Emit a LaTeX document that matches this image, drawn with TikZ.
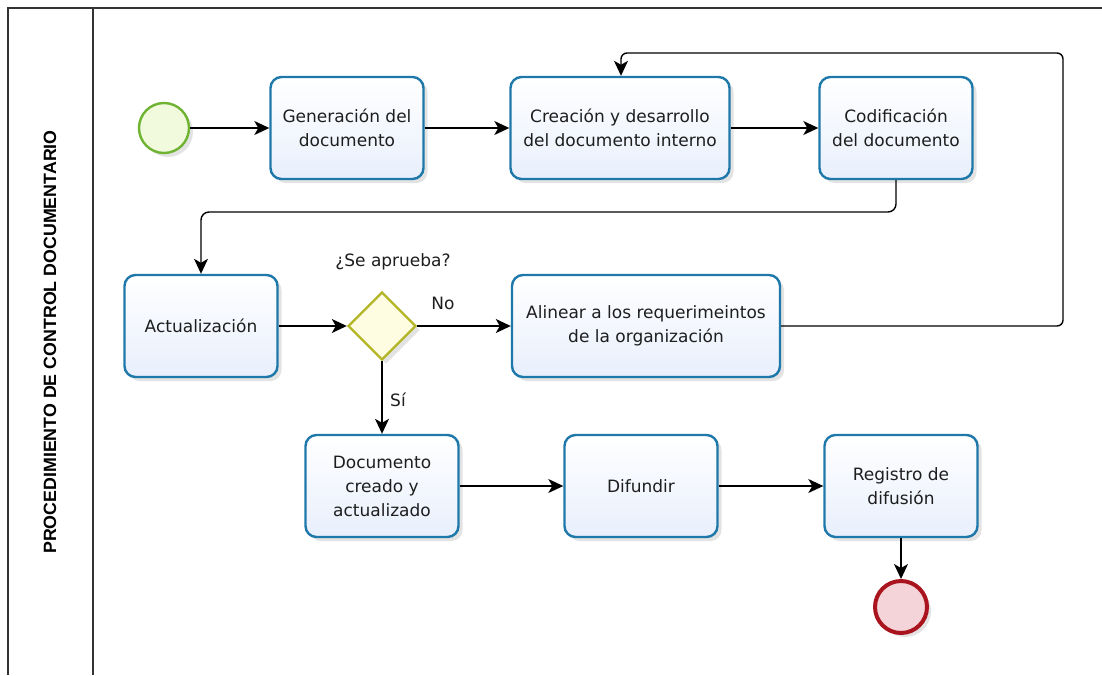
\documentclass[tikz,border=0pt]{standalone}
\usepackage{fontspec}
\setmainfont{DejaVu Sans}
\newfontfamily\titlefont{Liberation Sans}
\usetikzlibrary{arrows.meta,shapes.geometric,shadows}
\definecolor{taskblue}{RGB}{30,120,170}
\definecolor{taskfill}{RGB}{232,239,252}
\definecolor{startgreen}{RGB}{110,180,50}
\definecolor{startfill}{RGB}{242,250,222}
\definecolor{endred}{RGB}{170,20,30}
\definecolor{endfill}{RGB}{244,212,216}
\definecolor{gateolive}{RGB}{180,180,40}
\definecolor{gatefill}{RGB}{255,253,225}
\definecolor{textgray}{RGB}{30,30,30}
\tikzset{
  task/.style={draw=taskblue, line width=2.4pt, rounded corners=11pt,
    top color=white, bottom color=taskfill,
    minimum width=153pt, minimum height=102pt, align=center,
    font=\fontsize{17}{24}\selectfont, text=textgray,
    drop shadow={shadow xshift=4pt, shadow yshift=-4pt, opacity=0.18, fill=black!60}},
  startev/.style={circle, draw=startgreen, line width=2.4pt, fill=startfill,
    minimum size=50pt, inner sep=0pt,
    drop shadow={shadow xshift=4pt, shadow yshift=-4pt, opacity=0.18, fill=black!60}},
  endev/.style={circle, draw=endred, line width=4pt, fill=endfill,
    minimum size=52pt, inner sep=0pt,
    drop shadow={shadow xshift=4pt, shadow yshift=-4pt, opacity=0.18, fill=black!60}},
  gateway/.style={diamond, draw=gateolive, line width=2.4pt, fill=gatefill,
    minimum width=68pt, minimum height=68pt, inner sep=0pt, aspect=1,
    drop shadow={shadow xshift=4pt, shadow yshift=-4pt, opacity=0.18, fill=black!60}},
  flow/.style={draw=black, line width=1.4pt, -{Stealth[length=15pt,width=14pt,inset=4pt]}},
  lbl/.style={font=\fontsize{17}{20}\selectfont, text=textgray},
  frame/.style={draw=black!80, line width=1.6pt}
}
\begin{document}
\begin{tikzpicture}[x=1pt,y=-1pt]
\useasboundingbox (0,0) rectangle (1102,675);
\fill[white] (0,0) rectangle (1102,675);
% frame
\draw[frame] (1102,8) -- (8,8) -- (8,675);
\draw[frame] (93,8) -- (93,675);
\node[rotate=90, font=\titlefont\bfseries\fontsize{17.8}{20}\selectfont] (title) at (50,342) {PROCEDIMIENTO DE CONTROL DOCUMENTARIO};
% nodes
\node[startev] (start) at (164,128) {};
\node[task] (gen) at (347,128) {Generación del\\documento};
\node[task, minimum width=219pt] (cre) at (620,128) {Creación y desarrollo\\del documento interno};
\node[task] (cod) at (896,128) {Codificación\\del documento};
\node[task] (act) at (201,326) {Actualización};
\node[gateway] (gw) at (382,326) {};
\node[task, minimum width=268pt] (ali) at (646,326) {Alinear a los requerimeintos\\de la organización};
\node[task] (doc) at (382,486) {Documento\\creado y\\actualizado};
\node[task] (dif) at (641,486) {Difundir};
\node[task] (reg) at (901,486) {Registro de\\difusión};
\node[endev] (end) at (901,607) {};
% labels
\node[lbl] (q) at (393,262) {¿Se aprueba?};
\node[lbl] (no) at (443,303) {No};
\node[lbl] (si) at (398,400) {Sí};
% coordinates
\coordinate (c1) at (896,212);
\coordinate (r1) at (1063,326);
\coordinate (r2) at (1063,53);
\coordinate (r3) at (621,53);
% connectors
\draw[flow] (start) -- (gen);
\draw[flow] (gen) -- (cre);
\draw[flow] (cre) -- (cod);
\draw[flow, rounded corners=8pt] (cod.south) -- (c1) -| (act.north);
\draw[flow] (act) -- (gw.west);
\draw[flow] (gw.east) -- (ali.west);
\draw[flow] (gw.south) -- (doc.north);
\draw[flow, rounded corners=6pt] (ali.east) -- (r1) -- (r2) -- (r3) -- (cre.north -| r3);
\draw[flow] (doc) -- (dif);
\draw[flow] (dif) -- (reg);
\draw[flow] (reg) -- (end);
\end{tikzpicture}
\end{document}
